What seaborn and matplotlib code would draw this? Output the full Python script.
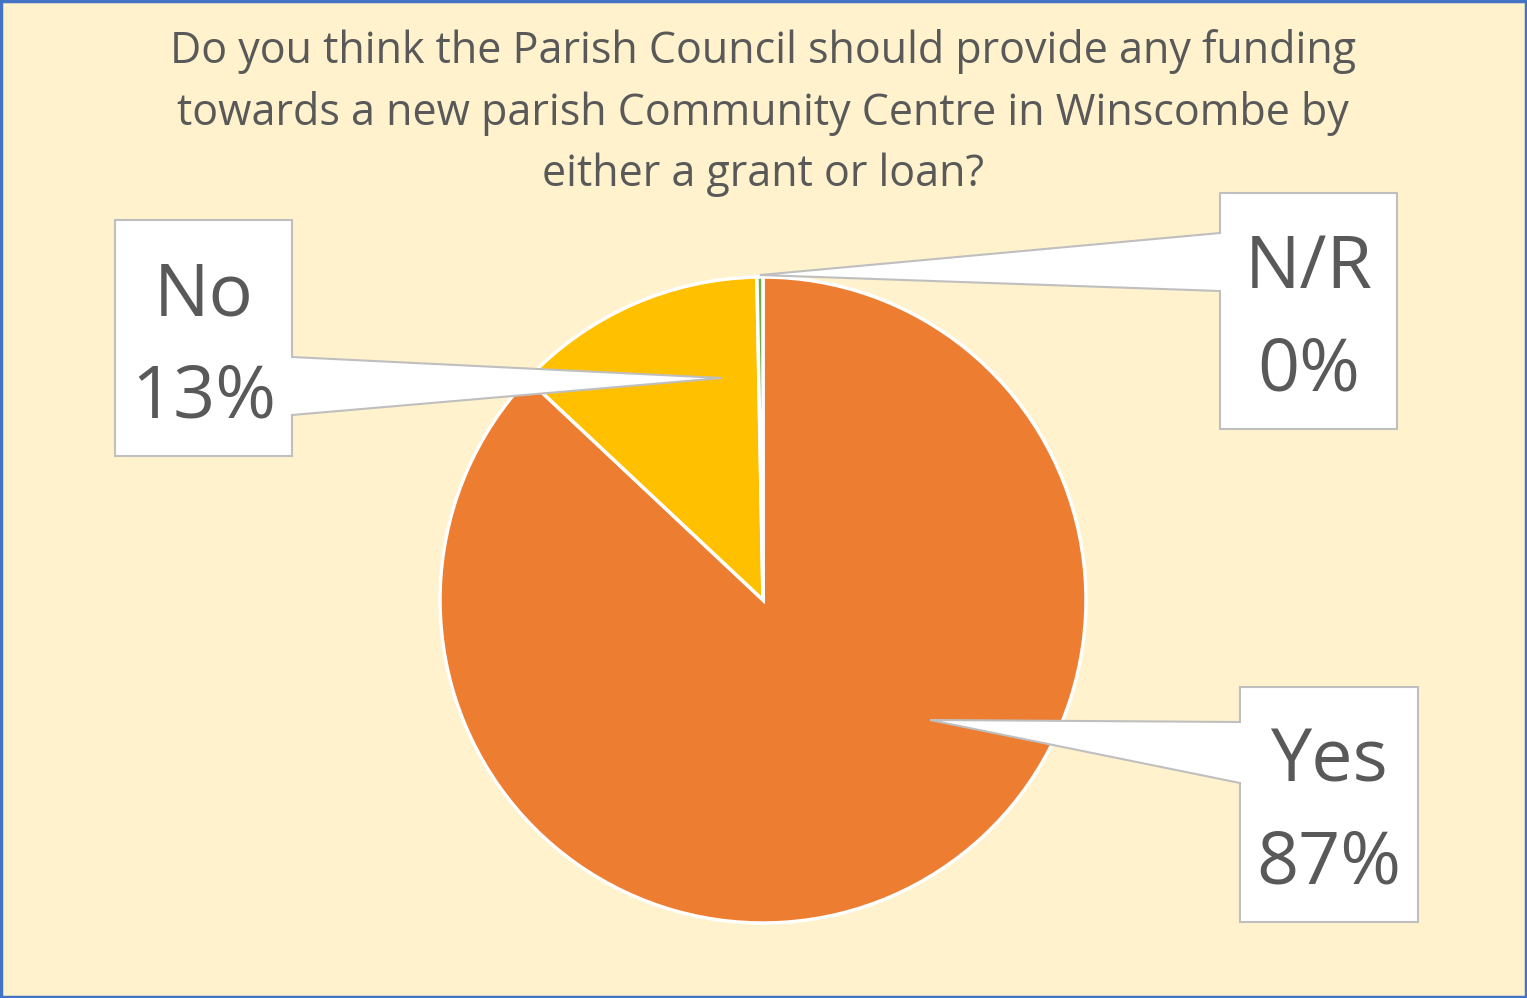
import seaborn as sns
import matplotlib.pyplot as plt
from matplotlib.patches import Polygon, Rectangle

sns.set_theme(style='white')
plt.rcParams['font.family'] = ['Open Sans', 'DejaVu Sans']

# survey answers (percent of responses)
answers = ['Yes', 'No', 'N/R']
shares = [87.0, 12.7, 0.3]
colours = ['#ED7D31', '#FFC000', '#70AD47']
title = ('Do you think the Parish Council should provide any funding\n'
         'towards a new parish Community Centre in Winscombe by\n'
         'either a grant or loan?')

W, H = 1527, 998
fig = plt.figure(figsize=(W / 100, H / 100), dpi=100, facecolor='#FFF2CC')
ax = fig.add_axes([0, 0, 1, 1])
ax.set_facecolor('#FFF2CC')

# pie, clockwise from 12 o'clock
cx, cy, r = 763, H - 600, 323
ax.pie(shares, colors=colours, startangle=90, counterclock=False,
       center=(cx, cy), radius=r, frame=True,
       wedgeprops=dict(edgecolor='white', linewidth=2.5))
ax.set_xlim(0, W)
ax.set_ylim(0, H)
ax.set_aspect('equal')
ax.axis('off')

ax.text(cx, H - 113, title, ha='center', va='center', fontsize=31,
        color='#595959', linespacing=1.5)

# callout boxes: (x0, x1, y0, y1) in px from top-left, side of pointer, pointer base, tip
callouts = {
    'No':  ((115, 292, 220, 456), 'right', (357, 415), (722, 378)),
    'N/R': ((1220, 1397, 193, 429), 'left', (233, 291), (760, 275)),
    'Yes': ((1240, 1418, 687, 922), 'left', (722, 783), (930, 720)),
}

for name, share in zip(answers, shares):
    (x0, x1, y0, y1), side, (b0, b1), (tx, ty) = callouts[name]
    if side == 'right':
        pts = [(x0, y0), (x1, y0), (x1, b0), (tx, ty), (x1, b1), (x1, y1), (x0, y1)]
    else:
        pts = [(x0, y0), (x1, y0), (x1, y1), (x0, y1), (x0, b1), (tx, ty), (x0, b0)]
    pts = [(px, H - py) for px, py in pts]
    ax.add_patch(Polygon(pts, closed=True, facecolor='white', edgecolor='#BFBFBF',
                         linewidth=1.5, zorder=5))
    ax.text((x0 + x1) / 2, H - (y0 + y1) / 2 - 9, f'{name}\n{share:.0f}%',
            ha='center', va='center', fontsize=53, color='#595959',
            linespacing=1.5, zorder=6)

# chart border
ax.add_patch(Rectangle((1, 1), W - 2, H - 2, fill=False, edgecolor='#4472C4',
                       linewidth=2.5, zorder=10, clip_on=False))

fig.savefig('out.png', dpi=100, facecolor=fig.get_facecolor())
